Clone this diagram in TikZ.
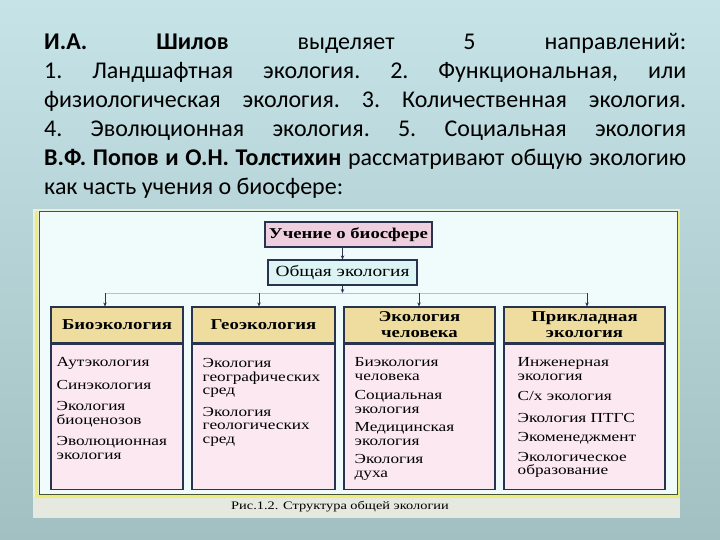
\documentclass[tikz,border=0pt]{standalone}
\usepackage{fontspec}
\setmainfont{Carlito}
\newfontfamily\figfont[FakeStretch=1.25]{Liberation Serif}
\usetikzlibrary{arrows.meta, positioning, calc}

\definecolor{slidetop}{HTML}{C6E4E8}
\definecolor{slidebot}{HTML}{A2C0C1}
\definecolor{figpale}{HTML}{EAF0DC}
\definecolor{figbg}{HTML}{F0FCFC}
\definecolor{figedge}{HTML}{4A5530}
\definecolor{figyellow}{HTML}{EDED7A}
\definecolor{capband}{HTML}{E6E9E0}
\definecolor{boxline}{HTML}{283350}
\definecolor{biosph}{HTML}{EDCFE0}
\definecolor{gencol}{HTML}{DCF4F4}
\definecolor{headcol}{HTML}{EEDD9F}
\definecolor{bodycol}{HTML}{FCE8F0}

\begin{document}
\begin{tikzpicture}[
  x=1pt, y=-1pt,
  >={Stealth[length=4pt,width=3.5pt]},
  frame/.style={draw=boxline, line width=1.1pt},
  topbox/.style={frame, fill=biosph, minimum width=167pt, minimum height=25pt, font=\figfont\fontsize{15}{17}\selectfont\bfseries},
  genbox/.style={frame, fill=gencol, minimum width=149pt, minimum height=25pt, font=\figfont\fontsize{15.5}{17}\selectfont},
  head/.style={frame, fill=headcol, minimum height=36pt, align=center, inner sep=1pt, font=\figfont\fontsize{15}{16}\selectfont\bfseries},
  body/.style={frame, fill=bodycol, minimum height=145pt},
  item/.style={anchor=north west, align=left, inner sep=0pt, font=\figfont\fontsize{13.8}{13.5}\selectfont},
  arr/.style={->, draw=boxline, line width=0.8pt},
  busline/.style={draw=black!25, line width=0.6pt}
  ]
  \useasboundingbox (0,0) rectangle (720,540);
  % slide
  \shade[top color=slidetop, bottom color=slidebot] (0,0) rectangle (720,540);
  \node[anchor=base west, text width=642pt, align=justify, inner sep=0pt,
        font=\fontsize{24}{29}\selectfont] (intro) at (44,50)
    {\frenchspacing\textbf{И.А. Шилов} выделяет 5 направлений:\linebreak
     1. Ландшафтная экология. 2. Функциональная, или\linebreak
     физиологическая экология. 3. Количественная экология.\linebreak
     4. Эволюционная экология. 5. Социальная экология\linebreak
     \textbf{В.Ф. Попов и О.Н. Толстихин} рассматривают общую экологию\linebreak
     как часть учения о биосфере:};

  % figure frame
  \fill[figpale] (33,209) rectangle (680,518);
  \fill[capband] (33,497) rectangle (680,518);
  \fill[figbg] (39,212) rectangle (677,494);
  \draw[figyellow, line width=3pt] (36,211) -- (36,496) -- (678,496) -- (678,211);
  \draw[figedge, line width=1pt] (39,212) rectangle (677,494);
  \node[font=\figfont\fontsize{11.5}{12}\selectfont] (cap) at (340,507) {Рис.1.2. Структура общей экологии};

  % top of the tree
  \node[topbox] (bios) at (348.5,234.5) {Учение о биосфере};
  \node[genbox] (gen) at (342.5,272.5) {Общая экология};
  \draw[arr] (gen.north |- bios.south) -- (gen.north);

  % four branches
  \node[head, minimum width=132pt] (bio) at (117,325) {Биоэкология};
  \node[head, minimum width=143pt] (geo) at (263.5,325) {Геоэкология};
  \node[head, minimum width=151pt] (hum) at (419.5,325) {Экология\\человека};
  \node[head, minimum width=161pt] (app) at (584.5,325) {Прикладная\\экология};
  \node[body, minimum width=132pt, below=0pt of bio] (biobody) {};
  \node[body, minimum width=143pt, below=0pt of geo] (geobody) {};
  \node[body, minimum width=151pt, below=0pt of hum] (humbody) {};
  \node[body, minimum width=161pt, below=0pt of app] (appbody) {};

  \coordinate (tbio) at (105,293);
  \coordinate (tgeo) at (259,293);
  \coordinate (thum) at (419,293);
  \coordinate (tapp) at (587,293);
  \draw[busline] (tbio) -- (tapp);
  \draw[arr] (gen.south) -- (gen.south |- tbio);
  \draw[arr] (tbio) -- (tbio |- bio.north);
  \draw[arr] (tgeo) -- (tgeo |- geo.north);
  \draw[arr] (thum) -- (thum |- hum.north);
  \draw[arr] (tapp) -- (tapp |- app.north);

  % lists
  \node[item] (biolist) at ($(biobody.north west)+(6,14)$)
    {Аутэкология\\[9pt] Синэкология\\[8pt] Экология\\биоценозов\\[8pt] Эволюционная\\экология};
  \node[item] (geolist) at ($(geobody.north west)+(11,15)$)
    {Экология\\географических\\сред\\[8pt] Экология\\геологических\\сред};
  \node[item] (humlist) at ($(humbody.north west)+(11,14)$)
    {Биэкология\\человека\\[6pt] Социальная\\экология\\[5pt] Медицинская\\экология\\[5pt] Экология\\духа};
  \node[item] (applist) at ($(appbody.north west)+(14,14)$)
    {Инженерная\\экология\\[7pt] С/х экология\\[8pt] Экология ПТГС\\[6pt] Экоменеджмент\\[6pt] Экологическое\\образование};
\end{tikzpicture}
\end{document}
